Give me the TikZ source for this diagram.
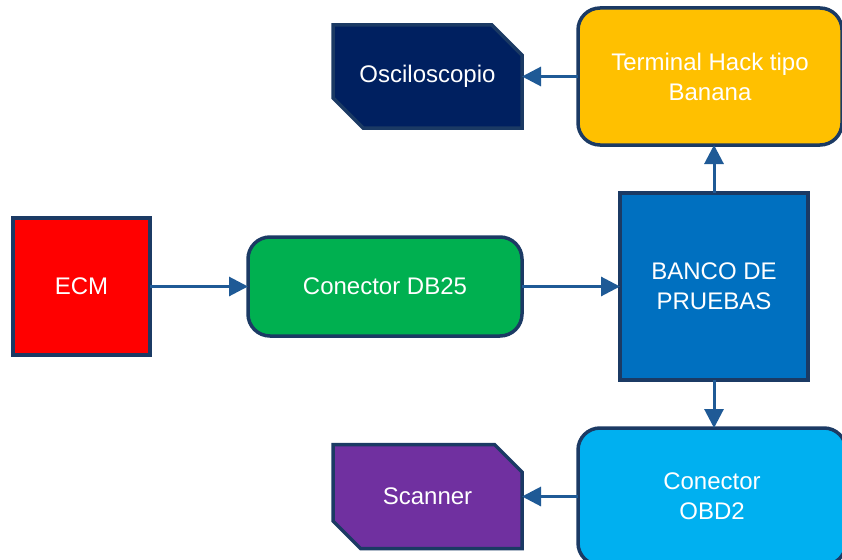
\documentclass[tikz,border=0pt]{standalone}
\usepackage{fontspec}
\setmainfont{Liberation Sans}
\usetikzlibrary{arrows.meta,shapes.misc}
\definecolor{edgenavy}{HTML}{1B3A64}
\definecolor{linkblue}{HTML}{1F5A96}
\definecolor{ecmred}{HTML}{FF0000}
\definecolor{dbgreen}{HTML}{00B050}
\definecolor{benchblue}{HTML}{0070C0}
\definecolor{termgold}{HTML}{FFC000}
\definecolor{obdcyan}{HTML}{00B0F0}
\definecolor{scopenavy}{HTML}{002060}
\definecolor{scanpurple}{HTML}{7030A0}
\tikzset{
  blockbase/.style={draw=edgenavy, line width=3.5pt, text=white, align=center,
    font=\fontsize{24}{30}\selectfont, inner sep=0pt, outer sep=0pt},
  squarebox/.style={blockbase, rectangle},
  roundbox/.style={blockbase, rectangle, rounded corners=22pt},
  snipbox/.style={blockbase, chamfered rectangle,
    chamfered rectangle corners={north east, south west},
    chamfered rectangle xsep=19pt, chamfered rectangle ysep=19pt},
  link/.style={draw=linkblue, line width=3pt,
    -{Triangle[length=19pt 0 0,width=19pt 0 0]}}
}
\begin{document}
\begin{tikzpicture}[x=1pt,y=-1pt]
  \useasboundingbox (0,0) rectangle (842,559);
  \clip (0,0) rectangle (842,559);
  \fill[white] (0,0) rectangle (842,559);

  % main chain
  \node[squarebox, fill=ecmred, minimum width=137pt, minimum height=137pt]
    (ecm) at (81.5,286.5) {ECM};
  \node[roundbox, fill=dbgreen, minimum width=274pt, minimum height=99pt]
    (db25) at (385,286.5) {Conector DB25};
  \node[squarebox, fill=benchblue, minimum width=188pt, minimum height=187pt]
    (banco) at (714,286.5) {BANCO DE\\PRUEBAS};

  % upper branch
  \node[roundbox, fill=termgold, minimum width=264pt, minimum height=137pt]
    (term) at (710,76.5) {Terminal Hack tipo\\Banana};
  \node[snipbox, fill=scopenavy, minimum width=189pt, minimum height=103pt]
    (osc) at (427.5,76.5) {Osciloscopio};

  % lower branch
  \node[roundbox, fill=obdcyan, minimum width=268pt, minimum height=137pt]
    (obd) at (712,496.5) {Conector\\OBD2};
  \node[snipbox, fill=scanpurple, minimum width=189pt, minimum height=104pt]
    (scan) at (427.5,496.5) {Scanner};

  % connectors
  \draw[link] (ecm.east) -- (db25.west);
  \draw[link] (db25.east) -- (banco.west);
  \draw[link] (banco.north) -- (banco.north |- term.south);
  \draw[link] (term.west) -- (osc.east);
  \draw[link] (banco.south) -- (banco.south |- obd.north);
  \draw[link] (obd.west) -- (scan.east);
\end{tikzpicture}
\end{document}
